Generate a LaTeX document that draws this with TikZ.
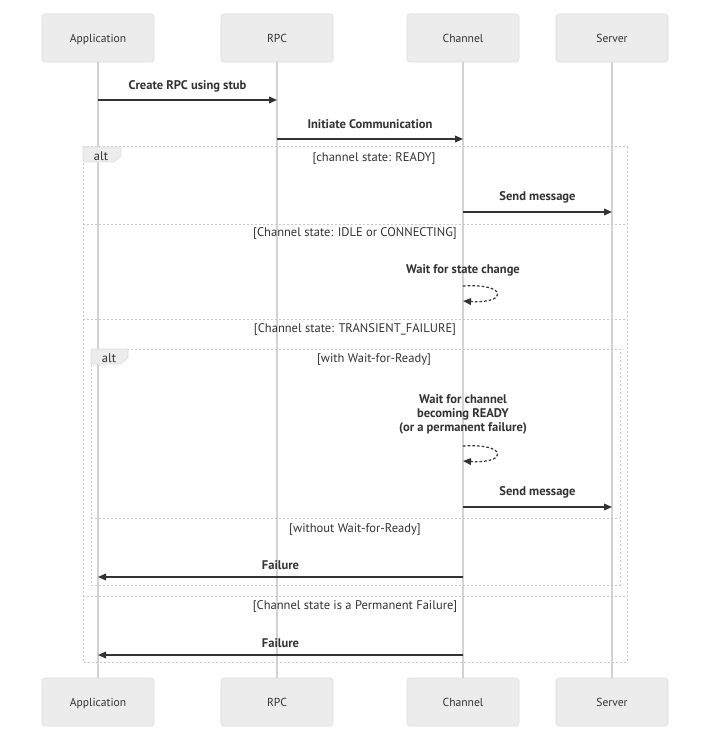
\documentclass[tikz,border=0pt]{standalone}
\usepackage{fontspec}
\setmainfont{PT Sans}
\usetikzlibrary{arrows.meta}
\definecolor{actfill}{HTML}{ECECEC}
\definecolor{actdraw}{HTML}{DDDDDD}
\definecolor{lifec}{HTML}{D3D3D3}
\definecolor{ink}{HTML}{333333}
\definecolor{frm}{HTML}{C8C8C8}
\newcommand\dfont{\fontsize{9.4}{10.5}\selectfont}
\newcommand\afont{\fontsize{8.7}{10.5}\selectfont}
\begin{document}
\begin{tikzpicture}[x=0.75pt,y=-0.75pt,
  actor/.style={draw=actdraw, fill=actfill, rounded corners=2.25pt, minimum width=84pt, minimum height=36pt, inner sep=0pt, font=\afont, text=ink, text height=6.5pt, text depth=0pt},
  life/.style={draw=lifec, line width=0.9pt},
  msg/.style={draw=ink, line width=1.1pt, -{Triangle[length=6pt,width=5pt]}},
  selfmsg/.style={draw=ink, line width=0.9pt, dash pattern=on 2pt off 1.5pt, -{Triangle[length=6pt,width=5pt]}},
  mlabel/.style={font=\dfont\bfseries, text=ink, inner sep=0pt, align=center},
  frame/.style={draw=frm, line width=0.75pt, dash pattern=on 1.5pt off 1.5pt},
  flabel/.style={font=\dfont, text=ink, inner sep=0pt},
  tabshape/.style={fill=actfill, draw=actdraw, line width=0.4pt}]
\useasboundingbox (0,0) rectangle (713,756);
\fill[white] (0,0) rectangle (713,756);
% actors
\node[actor] (appT) at (98,38) {Application};
\node[actor] (rpcT) at (277,38) {RPC};
\node[actor] (chT) at (463,38) {Channel};
\node[actor] (srvT) at (612,38) {Server};
\node[actor] (appB) at (98,702) {Application};
\node[actor] (rpcB) at (277,702) {RPC};
\node[actor] (chB) at (463,702) {Channel};
\node[actor] (srvB) at (612,702) {Server};
% lifelines
\draw[life] (appT.south) -- (appB.north);
\draw[life] (rpcT.south) -- (rpcB.north);
\draw[life] (chT.south) -- (chB.north);
\draw[life] (srvT.south) -- (srvB.north);
% outer alt frame
\draw[frame] (83,147) rectangle (627,662);
\draw[tabshape] (83,147) -- (121,147) -- (121,156) -- (114,162) -- (83,162) -- cycle;
\node[flabel] (alt1) at (101,156.5) {alt};
\node[flabel] (s1) at (374,158.5) {[channel state: READY]};
\draw[frame] (83,224) -- (627,224);
\node[flabel] (s2) at (355,233.5) {[Channel state: IDLE or CONNECTING]};
\draw[frame] (83,319) -- (627,319);
\node[flabel] (s3) at (355,329.5) {[Channel state: TRANSIENT\_FAILURE]};
\draw[frame] (83,596) -- (627,596);
\node[flabel] (s4) at (355,606.5) {[Channel state is a Permanent Failure]};
% inner alt frame
\draw[frame] (91,349) rectangle (620,585);
\draw[tabshape] (91,349) -- (128,349) -- (128,358) -- (121,364) -- (91,364) -- cycle;
\node[flabel] (alt2) at (109,358.5) {alt};
\node[flabel] (s5) at (374,359.5) {[with Wait-for-Ready]};
\draw[frame] (91,518) -- (620,518);
\node[flabel] (s6) at (355,529.5) {[without Wait-for-Ready]};
% message endpoints
\coordinate (m1a) at (98,100);  \coordinate (m1b) at (277,100);
\coordinate (m2a) at (277,139); \coordinate (m2b) at (463,139);
\coordinate (m3a) at (463,212); \coordinate (m3b) at (612,212);
\coordinate (l1a) at (463,286); \coordinate (l1b) at (463,301);
\coordinate (l2a) at (463,446); \coordinate (l2b) at (463,461);
\coordinate (m4a) at (463,507); \coordinate (m4b) at (612,507);
\coordinate (m5a) at (463,577); \coordinate (m5b) at (98,577);
\coordinate (m6a) at (463,655); \coordinate (m6b) at (98,655);
% messages
\node[mlabel] (t1) at (187.5,86.5) {Create RPC using stub};
\draw[msg] (m1a) -- (m1b);
\node[mlabel] (t2) at (370,124.5) {Initiate Communication};
\draw[msg] (m2a) -- (m2b);
\node[mlabel] (t3) at (537.5,197.5) {Send message};
\draw[msg] (m3a) -- (m3b);
\node[mlabel] (t4) at (463,270.5) {Wait for state change};
\draw[selfmsg] (l1a) .. controls (508,283) and (508,304) .. (l1b);
\node[mlabel] (t5) at (463,414.5) {Wait for channel\\becoming READY\\(or a permanent failure)};
\draw[selfmsg] (l2a) .. controls (508,443) and (508,464) .. (l2b);
\node[mlabel] (t6) at (537.5,492.5) {Send message};
\draw[msg] (m4a) -- (m4b);
\node[mlabel] (t7) at (280.5,565.5) {Failure};
\draw[msg] (m5a) -- (m5b);
\node[mlabel] (t8) at (280.5,643.5) {Failure};
\draw[msg] (m6a) -- (m6b);
\end{tikzpicture}
\end{document}
